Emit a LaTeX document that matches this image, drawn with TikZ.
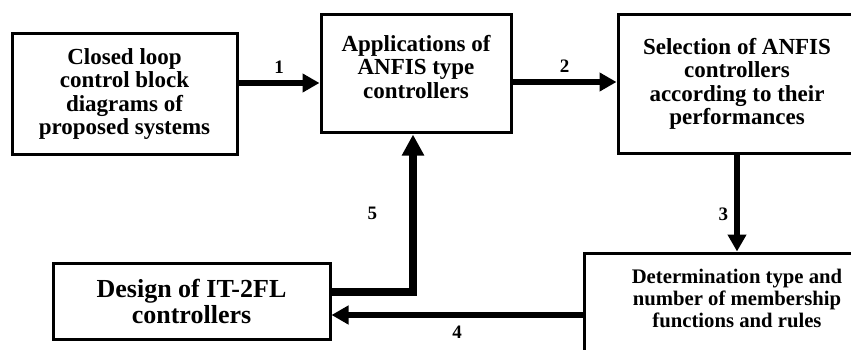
\documentclass[tikz,border=0pt]{standalone}
\usepackage{fontspec}
\setmainfont{Liberation Serif}
\usetikzlibrary{arrows.meta,positioning,calc}

\begin{document}
\begin{tikzpicture}[x=1pt,y=-1pt,
  block/.style={draw,line width=3pt,align=center,font=\bfseries\fontsize{23}{23.5}\selectfont,inner sep=0pt},
  flow/.style={line width=6pt,-{Triangle[length=17pt,width=18pt]}},
  flowbig/.style={line width=8pt,-{Triangle[length=21pt,width=21pt]}},
  num/.style={font=\bfseries\fontsize{19}{19}\selectfont,inner sep=2pt}]
  % frame of the figure (boxes on the right run past it)
  \clip (0,0) rectangle (851,350);

  % blocks
  \node[block,minimum width=225pt,minimum height=120pt] (loop) at (124.5,94)
    {Closed loop\\control block\\diagrams of\\proposed systems};
  \node[block,minimum width=190pt,minimum height=118pt] (anfis) at (416,74)
    {Applications of\\ANFIS type\\controllers\\[-9pt]\mbox{}};
  \node[block,minimum width=238pt,minimum height=138pt] (select) at (737,84)
    {Selection of ANFIS\\controllers\\according to their\\performances};
  \node[block,minimum width=306pt,minimum height=99pt,font=\bfseries\fontsize{20.7}{22}\selectfont] (member) at (737,302.5)
    {Determination type and\\number of membership\\functions and rules\\[-13pt]\mbox{}};
  \node[block,minimum width=277pt,minimum height=76pt,font=\bfseries\fontsize{26}{26}\selectfont] (design) at (191.5,301)
    {Design of IT-2FL\\controllers};

  % connectors
  \draw[flow] (loop.east |- 0,83) -- node[num,above=4pt] {1} (anfis.west |- 0,83);
  \draw[flow] (anfis.east |- 0,82) -- node[num,above=4pt] {2} (select.west |- 0,82);
  \draw[flow] (select.south) -- node[num,pos=0.62,left=4pt] {3} (select.south |- member.north);
  \coordinate (in4) at ([yshift=-14]design.east);
  \draw[flow] (member.west |- in4) -- node[num,below=6pt] {4} (in4);
  \coordinate (out5) at ([yshift=9]design.east);
  \draw[flowbig] (out5) -| node[num,pos=0.75,left=30pt] {5} ([xshift=-3]anfis.south);
\end{tikzpicture}
\end{document}
